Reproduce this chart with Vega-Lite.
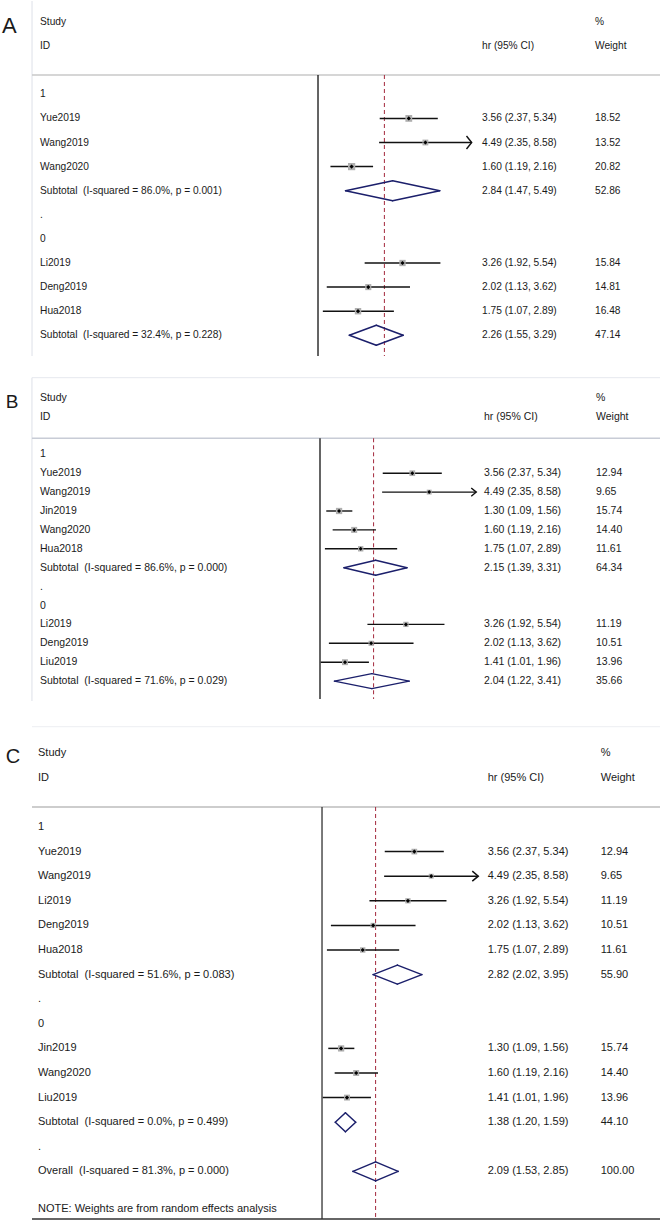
{
  "$schema": "https://vega.github.io/schema/vega-lite/v6.json",
  "padding": 0,
  "spacing": 0,
  "background": "white",
  "config": {"view": {"stroke": null}, "concat": {"spacing": 0}, "text": {"font": "Liberation Sans", "color": "#1a1a1a"}},
  "datasets": {
    "A": [
      {"r": -3, "type": "header", "label": "Study", "wt": "%"},
      {"r": -2, "type": "header", "label": "ID", "hr": "hr (95% CI)", "wt": "Weight"},
      {"r": 0, "type": "group", "label": "1"},
      {"r": 1, "type": "study", "label": "Yue2019", "est": 3.56, "lo": 2.37, "hi": 5.34, "w": 18.52, "hr": "3.56 (2.37, 5.34)", "wt": "18.52"},
      {"r": 2, "type": "study", "label": "Wang2019", "est": 4.49, "lo": 2.35, "hi": 8.58, "w": 13.52, "hr": "4.49 (2.35, 8.58)", "wt": "13.52", "trunc": 1},
      {"r": 3, "type": "study", "label": "Wang2020", "est": 1.6, "lo": 1.19, "hi": 2.16, "w": 20.82, "hr": "1.60 (1.19, 2.16)", "wt": "20.82"},
      {"r": 4, "type": "sub", "label": "Subtotal\u00a0\u00a0(I-squared = 86.0%, p = 0.001)", "est": 2.84, "lo": 1.47, "hi": 5.49, "w": 52.86, "hr": "2.84 (1.47, 5.49)", "wt": "52.86"},
      {"r": 5, "type": "sep", "label": "."},
      {"r": 6, "type": "group", "label": "0"},
      {"r": 7, "type": "study", "label": "Li2019", "est": 3.26, "lo": 1.92, "hi": 5.54, "w": 15.84, "hr": "3.26 (1.92, 5.54)", "wt": "15.84"},
      {"r": 8, "type": "study", "label": "Deng2019", "est": 2.02, "lo": 1.13, "hi": 3.62, "w": 14.81, "hr": "2.02 (1.13, 3.62)", "wt": "14.81"},
      {"r": 9, "type": "study", "label": "Hua2018", "est": 1.75, "lo": 1.07, "hi": 2.89, "w": 16.48, "hr": "1.75 (1.07, 2.89)", "wt": "16.48"},
      {"r": 10, "type": "sub", "label": "Subtotal\u00a0\u00a0(I-squared = 32.4%, p = 0.228)", "est": 2.26, "lo": 1.55, "hi": 3.29, "w": 47.14, "hr": "2.26 (1.55, 3.29)", "wt": "47.14"}
    ],
    "B": [
      {"r": -3, "type": "header", "label": "Study", "wt": "%"},
      {"r": -2, "type": "header", "label": "ID", "hr": "hr (95% CI)", "wt": "Weight"},
      {"r": 0, "type": "group", "label": "1"},
      {"r": 1, "type": "study", "label": "Yue2019", "est": 3.56, "lo": 2.37, "hi": 5.34, "w": 12.94, "hr": "3.56 (2.37, 5.34)", "wt": "12.94"},
      {"r": 2, "type": "study", "label": "Wang2019", "est": 4.49, "lo": 2.35, "hi": 8.58, "w": 9.65, "hr": "4.49 (2.35, 8.58)", "wt": "9.65", "trunc": 1},
      {"r": 3, "type": "study", "label": "Jin2019", "est": 1.3, "lo": 1.09, "hi": 1.56, "w": 15.74, "hr": "1.30 (1.09, 1.56)", "wt": "15.74"},
      {"r": 4, "type": "study", "label": "Wang2020", "est": 1.6, "lo": 1.19, "hi": 2.16, "w": 14.4, "hr": "1.60 (1.19, 2.16)", "wt": "14.40"},
      {"r": 5, "type": "study", "label": "Hua2018", "est": 1.75, "lo": 1.07, "hi": 2.89, "w": 11.61, "hr": "1.75 (1.07, 2.89)", "wt": "11.61"},
      {"r": 6, "type": "sub", "label": "Subtotal\u00a0\u00a0(I-squared = 86.6%, p = 0.000)", "est": 2.15, "lo": 1.39, "hi": 3.31, "w": 64.34, "hr": "2.15 (1.39, 3.31)", "wt": "64.34"},
      {"r": 7, "type": "sep", "label": "."},
      {"r": 8, "type": "group", "label": "0"},
      {"r": 9, "type": "study", "label": "Li2019", "est": 3.26, "lo": 1.92, "hi": 5.54, "w": 11.19, "hr": "3.26 (1.92, 5.54)", "wt": "11.19"},
      {"r": 10, "type": "study", "label": "Deng2019", "est": 2.02, "lo": 1.13, "hi": 3.62, "w": 10.51, "hr": "2.02 (1.13, 3.62)", "wt": "10.51"},
      {"r": 11, "type": "study", "label": "Liu2019", "est": 1.41, "lo": 1.01, "hi": 1.96, "w": 13.96, "hr": "1.41 (1.01, 1.96)", "wt": "13.96"},
      {"r": 12, "type": "sub", "label": "Subtotal\u00a0\u00a0(I-squared = 71.6%, p = 0.029)", "est": 2.04, "lo": 1.22, "hi": 3.41, "w": 35.66, "hr": "2.04 (1.22, 3.41)", "wt": "35.66"}
    ],
    "C": [
      {"r": -3, "type": "header", "label": "Study", "wt": "%"},
      {"r": -2, "type": "header", "label": "ID", "hr": "hr (95% CI)", "wt": "Weight"},
      {"r": 0, "type": "group", "label": "1"},
      {"r": 1, "type": "study", "label": "Yue2019", "est": 3.56, "lo": 2.37, "hi": 5.34, "w": 12.94, "hr": "3.56 (2.37, 5.34)", "wt": "12.94"},
      {"r": 2, "type": "study", "label": "Wang2019", "est": 4.49, "lo": 2.35, "hi": 8.58, "w": 9.65, "hr": "4.49 (2.35, 8.58)", "wt": "9.65", "trunc": 1},
      {"r": 3, "type": "study", "label": "Li2019", "est": 3.26, "lo": 1.92, "hi": 5.54, "w": 11.19, "hr": "3.26 (1.92, 5.54)", "wt": "11.19"},
      {"r": 4, "type": "study", "label": "Deng2019", "est": 2.02, "lo": 1.13, "hi": 3.62, "w": 10.51, "hr": "2.02 (1.13, 3.62)", "wt": "10.51"},
      {"r": 5, "type": "study", "label": "Hua2018", "est": 1.75, "lo": 1.07, "hi": 2.89, "w": 11.61, "hr": "1.75 (1.07, 2.89)", "wt": "11.61"},
      {"r": 6, "type": "sub", "label": "Subtotal\u00a0\u00a0(I-squared = 51.6%, p = 0.083)", "est": 2.82, "lo": 2.02, "hi": 3.95, "w": 55.9, "hr": "2.82 (2.02, 3.95)", "wt": "55.90"},
      {"r": 7, "type": "sep", "label": "."},
      {"r": 8, "type": "group", "label": "0"},
      {"r": 9, "type": "study", "label": "Jin2019", "est": 1.3, "lo": 1.09, "hi": 1.56, "w": 15.74, "hr": "1.30 (1.09, 1.56)", "wt": "15.74"},
      {"r": 10, "type": "study", "label": "Wang2020", "est": 1.6, "lo": 1.19, "hi": 2.16, "w": 14.4, "hr": "1.60 (1.19, 2.16)", "wt": "14.40"},
      {"r": 11, "type": "study", "label": "Liu2019", "est": 1.41, "lo": 1.01, "hi": 1.96, "w": 13.96, "hr": "1.41 (1.01, 1.96)", "wt": "13.96"},
      {"r": 12, "type": "sub", "label": "Subtotal\u00a0\u00a0(I-squared = 0.0%, p = 0.499)", "est": 1.38, "lo": 1.2, "hi": 1.59, "w": 44.1, "hr": "1.38 (1.20, 1.59)", "wt": "44.10"},
      {"r": 13, "type": "sep", "label": "."},
      {"r": 14, "type": "overall", "label": "Overall\u00a0\u00a0(I-squared = 81.3%, p = 0.000)", "est": 2.09, "lo": 1.53, "hi": 2.85, "w": 100, "hr": "2.09 (1.53, 2.85)", "wt": "100.00"},
      {"r": 15.528, "type": "note", "label": "NOTE: Weights are from random effects analysis"}
    ]
  },
  "vconcat": [
    {
      "width": 660, "height": 372,
      "data": {"name": "A"},
      "encoding": {"y": {"field": "r", "type": "quantitative", "scale": {"domain": [-3.8714, 11.5643], "reverse": true, "nice": false, "zero": false}, "axis": null}},
      "layer": [
        {"transform": [{"filter": "datum.r == -3"}], "mark": {"type": "rule", "color": "#dde0e8", "strokeWidth": 1},
         "encoding": {"x": {"datum": 0.01832, "type": "quantitative", "scale": {"type": "log", "domain": [0.011706, 119.47], "nice": false}, "axis": null}, "y": {"datum": -3.8714}, "y2": {"datum": 10.859}}},
        {"transform": [{"filter": "datum.r == -3"}], "mark": {"type": "rule", "color": "#c9c9c9", "strokeWidth": 1.5},
         "encoding": {"x": {"datum": 0.01832, "type": "quantitative"}, "x2": {"datum": 119.47}, "y": {"datum": -0.801}}},
        {"transform": [{"filter": "datum.r == -3"}], "mark": {"type": "rule", "color": "#111111", "strokeWidth": 1.3},
         "encoding": {"x": {"datum": 1, "type": "quantitative"}, "y": {"datum": -0.801}, "y2": {"datum": 10.859}}},
        {"transform": [{"filter": "datum.r == -3"}], "mark": {"type": "rule", "color": "#a3283c", "strokeWidth": 1, "strokeDash": [4, 3]},
         "encoding": {"x": {"datum": 2.53, "type": "quantitative"}, "y": {"datum": -0.801}, "y2": {"datum": 10.859}}},
        {"transform": [{"filter": "datum.type == 'study'"}], "mark": {"type": "rule", "color": "#111111", "strokeWidth": 1.5},
         "encoding": {"x": {"field": "lo", "type": "quantitative"}, "x2": {"field": "hi"}}},
        {"transform": [{"filter": "datum.trunc == 1"}], "mark": {"type": "point", "shape": "M-0.8,-1L0,0L-0.8,1", "filled": false, "size": 169, "stroke": "#111111", "strokeWidth": 1.4, "opacity": 1},
         "encoding": {"x": {"field": "hi", "type": "quantitative"}}},
        {"transform": [{"filter": "datum.type == 'study'"}], "mark": {"type": "point", "shape": "square", "filled": true, "color": "#afafaf", "opacity": 1},
         "encoding": {"x": {"field": "est", "type": "quantitative"}, "size": {"field": "w", "type": "quantitative", "scale": {"domain": [0, 20], "range": [0, 50]}, "legend": null}}},
        {"transform": [{"filter": "datum.type == 'study'"}], "mark": {"type": "point", "shape": "diamond", "filled": true, "color": "#000000", "size": 18, "opacity": 1},
         "encoding": {"x": {"field": "est", "type": "quantitative"}}},
        {"transform": [{"filter": "datum.type == 'sub' || datum.type == 'overall'"}], "mark": {"type": "rule", "color": "#1b1f6b", "strokeWidth": 1.5, "strokeCap": "round", "y2Offset": -10},
         "encoding": {"x": {"field": "lo", "type": "quantitative"}, "x2": {"field": "est"}, "y2": {"field": "r"}}},
        {"transform": [{"filter": "datum.type == 'sub' || datum.type == 'overall'"}], "mark": {"type": "rule", "color": "#1b1f6b", "strokeWidth": 1.5, "strokeCap": "round", "yOffset": -10},
         "encoding": {"x": {"field": "est", "type": "quantitative"}, "x2": {"field": "hi"}, "y2": {"field": "r"}}},
        {"transform": [{"filter": "datum.type == 'sub' || datum.type == 'overall'"}], "mark": {"type": "rule", "color": "#1b1f6b", "strokeWidth": 1.5, "strokeCap": "round", "y2Offset": 10},
         "encoding": {"x": {"field": "lo", "type": "quantitative"}, "x2": {"field": "est"}, "y2": {"field": "r"}}},
        {"transform": [{"filter": "datum.type == 'sub' || datum.type == 'overall'"}], "mark": {"type": "rule", "color": "#1b1f6b", "strokeWidth": 1.5, "strokeCap": "round", "yOffset": 10},
         "encoding": {"x": {"field": "est", "type": "quantitative"}, "x2": {"field": "hi"}, "y2": {"field": "r"}}},
        {"mark": {"type": "text", "align": "left", "baseline": "middle", "fontSize": 10.2},
         "encoding": {"x": {"datum": 0.02049, "type": "quantitative"}, "text": {"field": "label"}}},
        {"transform": [{"filter": "isValid(datum.hr)"}], "mark": {"type": "text", "align": "left", "baseline": "middle", "fontSize": 10.2},
         "encoding": {"x": {"datum": 9.911, "type": "quantitative"}, "text": {"field": "hr"}}},
        {"transform": [{"filter": "isValid(datum.wt)"}], "mark": {"type": "text", "align": "left", "baseline": "middle", "fontSize": 10.2},
         "encoding": {"x": {"datum": 48.14, "type": "quantitative"}, "text": {"field": "wt"}}},
        {"transform": [{"filter": "datum.r == -3"}], "mark": {"type": "text", "align": "center", "baseline": "alphabetic", "fontSize": 22},
         "encoding": {"x": {"datum": 0.01332, "type": "quantitative"}, "y": {"datum": -2.556}, "text": {"value": "A"}}}
      ]
    },
    {
      "width": 660, "height": 348,
      "data": {"name": "B"},
      "encoding": {"y": {"field": "r", "type": "quantitative", "scale": {"domain": [-4.3016, 14.1111], "reverse": true, "nice": false, "zero": false}, "axis": null}},
      "layer": [
        {"transform": [{"filter": "datum.r == -3"}], "mark": {"type": "rule", "color": "#e6e8ee", "strokeWidth": 1},
         "encoding": {"x": {"datum": 0.01903, "type": "quantitative", "scale": {"type": "log", "domain": [0.01226, 107.4], "nice": false}, "axis": null}, "x2": {"datum": 107.4}, "y": {"datum": -4.053}}},
        {"transform": [{"filter": "datum.r == -3"}], "mark": {"type": "rule", "color": "#dde0e8", "strokeWidth": 1},
         "encoding": {"x": {"datum": 0.01903, "type": "quantitative"}, "y": {"datum": -4.053}, "y2": {"datum": 13.053}}},
        {"transform": [{"filter": "datum.r == -3"}], "mark": {"type": "rule", "color": "#c8ccd6", "strokeWidth": 1.5},
         "encoding": {"x": {"datum": 0.01903, "type": "quantitative"}, "x2": {"datum": 107.4}, "y": {"datum": -0.847}}},
        {"transform": [{"filter": "datum.r == -3"}], "mark": {"type": "rule", "color": "#111111", "strokeWidth": 1.3},
         "encoding": {"x": {"datum": 1, "type": "quantitative"}, "y": {"datum": -0.847}, "y2": {"datum": 12.947}}},
        {"transform": [{"filter": "datum.r == -3"}], "mark": {"type": "rule", "color": "#a3283c", "strokeWidth": 1, "strokeDash": [4, 3]},
         "encoding": {"x": {"datum": 2.09, "type": "quantitative"}, "y": {"datum": -0.847}, "y2": {"datum": 12.947}}},
        {"transform": [{"filter": "datum.type == 'study'"}], "mark": {"type": "rule", "color": "#111111", "strokeWidth": 1.4},
         "encoding": {"x": {"field": "lo", "type": "quantitative"}, "x2": {"field": "hi"}}},
        {"transform": [{"filter": "datum.trunc == 1"}], "mark": {"type": "point", "shape": "M-1.2,-1L0,0L-1.2,1", "filled": false, "size": 70, "stroke": "#111111", "strokeWidth": 1.4, "opacity": 1},
         "encoding": {"x": {"field": "hi", "type": "quantitative"}}},
        {"transform": [{"filter": "datum.type == 'study'"}], "mark": {"type": "point", "shape": "square", "filled": true, "color": "#afafaf", "opacity": 1},
         "encoding": {"x": {"field": "est", "type": "quantitative"}, "size": {"field": "w", "type": "quantitative", "scale": {"domain": [0, 16], "range": [0, 55]}, "legend": null}}},
        {"transform": [{"filter": "datum.type == 'study'"}], "mark": {"type": "point", "shape": "diamond", "filled": true, "color": "#000000", "size": 16, "opacity": 1},
         "encoding": {"x": {"field": "est", "type": "quantitative"}}},
        {"transform": [{"filter": "datum.type == 'sub' || datum.type == 'overall'"}], "mark": {"type": "rule", "color": "#1b1f6b", "strokeWidth": 1.4, "strokeCap": "round", "y2Offset": -7.5},
         "encoding": {"x": {"field": "lo", "type": "quantitative"}, "x2": {"field": "est"}, "y2": {"field": "r"}}},
        {"transform": [{"filter": "datum.type == 'sub' || datum.type == 'overall'"}], "mark": {"type": "rule", "color": "#1b1f6b", "strokeWidth": 1.4, "strokeCap": "round", "yOffset": -7.5},
         "encoding": {"x": {"field": "est", "type": "quantitative"}, "x2": {"field": "hi"}, "y2": {"field": "r"}}},
        {"transform": [{"filter": "datum.type == 'sub' || datum.type == 'overall'"}], "mark": {"type": "rule", "color": "#1b1f6b", "strokeWidth": 1.4, "strokeCap": "round", "y2Offset": 7.5},
         "encoding": {"x": {"field": "lo", "type": "quantitative"}, "x2": {"field": "est"}, "y2": {"field": "r"}}},
        {"transform": [{"filter": "datum.type == 'sub' || datum.type == 'overall'"}], "mark": {"type": "rule", "color": "#1b1f6b", "strokeWidth": 1.4, "strokeCap": "round", "yOffset": 7.5},
         "encoding": {"x": {"field": "est", "type": "quantitative"}, "x2": {"field": "hi"}, "y2": {"field": "r"}}},
        {"mark": {"type": "text", "align": "left", "baseline": "middle", "fontSize": 10.5},
         "encoding": {"x": {"datum": 0.02124, "type": "quantitative"}, "text": {"field": "label"}}},
        {"transform": [{"filter": "isValid(datum.hr)"}], "mark": {"type": "text", "align": "left", "baseline": "middle", "fontSize": 10.5},
         "encoding": {"x": {"datum": 9.544, "type": "quantitative"}, "text": {"field": "hr"}}},
        {"transform": [{"filter": "isValid(datum.wt)"}], "mark": {"type": "text", "align": "left", "baseline": "middle", "fontSize": 10.5},
         "encoding": {"x": {"datum": 44.54, "type": "quantitative"}, "text": {"field": "wt"}}},
        {"transform": [{"filter": "datum.r == -3"}], "mark": {"type": "text", "align": "center", "baseline": "alphabetic", "fontSize": 19},
         "encoding": {"x": {"datum": 0.01446, "type": "quantitative"}, "y": {"datum": -2.45}, "text": {"value": "B"}}}
      ]
    },
    {
      "width": 660, "height": 501,
      "data": {"name": "C"},
      "encoding": {"y": {"field": "r", "type": "quantitative", "scale": {"domain": [-4.3089, 16.057], "reverse": true, "nice": false, "zero": false}, "axis": null}},
      "layer": [
        {"transform": [{"filter": "datum.r == -3"}], "mark": {"type": "rule", "color": "#eceef2", "strokeWidth": 1},
         "encoding": {"x": {"datum": 0.01851, "type": "quantitative", "scale": {"type": "log", "domain": [0.01192, 104.5], "nice": false}, "axis": null}, "x2": {"datum": 104.5}, "y": {"datum": -4.077}}},
        {"transform": [{"filter": "datum.r == -3"}], "mark": {"type": "rule", "color": "#bdbdbd", "strokeWidth": 1.5},
         "encoding": {"x": {"datum": 0.01851, "type": "quantitative"}, "x2": {"datum": 104.5}, "y": {"datum": -0.813}}},
        {"transform": [{"filter": "datum.r == -3"}], "mark": {"type": "rule", "color": "#333333", "strokeWidth": 1.5},
         "encoding": {"x": {"datum": 0.01851, "type": "quantitative"}, "x2": {"datum": 104.5}, "y": {"datum": 15.935}}},
        {"transform": [{"filter": "datum.r == -3"}], "mark": {"type": "rule", "color": "#333333", "strokeWidth": 1.3},
         "encoding": {"x": {"datum": 1, "type": "quantitative"}, "y": {"datum": -0.813}, "y2": {"datum": 15.935}}},
        {"transform": [{"filter": "datum.r == -3"}], "mark": {"type": "rule", "color": "#a3283c", "strokeWidth": 1, "strokeDash": [4, 3]},
         "encoding": {"x": {"datum": 2.09, "type": "quantitative"}, "y": {"datum": -0.813}, "y2": {"datum": 15.935}}},
        {"transform": [{"filter": "datum.type == 'study'"}], "mark": {"type": "rule", "color": "#111111", "strokeWidth": 1.5},
         "encoding": {"x": {"field": "lo", "type": "quantitative"}, "x2": {"field": "hi"}}},
        {"transform": [{"filter": "datum.trunc == 1"}], "mark": {"type": "point", "shape": "M-1.2,-1L0,0L-1.2,1", "filled": false, "size": 100, "stroke": "#111111", "strokeWidth": 1.5, "opacity": 1},
         "encoding": {"x": {"field": "hi", "type": "quantitative"}}},
        {"transform": [{"filter": "datum.type == 'study'"}], "mark": {"type": "point", "shape": "square", "filled": true, "color": "#afafaf", "opacity": 1},
         "encoding": {"x": {"field": "est", "type": "quantitative"}, "size": {"field": "w", "type": "quantitative", "scale": {"domain": [0, 16], "range": [0, 75]}, "legend": null}}},
        {"transform": [{"filter": "datum.type == 'study'"}], "mark": {"type": "point", "shape": "diamond", "filled": true, "color": "#000000", "size": 18, "opacity": 1},
         "encoding": {"x": {"field": "est", "type": "quantitative"}}},
        {"transform": [{"filter": "datum.type == 'sub' || datum.type == 'overall'"}], "mark": {"type": "rule", "color": "#1b1f6b", "strokeWidth": 1.5, "strokeCap": "round", "y2Offset": -9.5},
         "encoding": {"x": {"field": "lo", "type": "quantitative"}, "x2": {"field": "est"}, "y2": {"field": "r"}}},
        {"transform": [{"filter": "datum.type == 'sub' || datum.type == 'overall'"}], "mark": {"type": "rule", "color": "#1b1f6b", "strokeWidth": 1.5, "strokeCap": "round", "yOffset": -9.5},
         "encoding": {"x": {"field": "est", "type": "quantitative"}, "x2": {"field": "hi"}, "y2": {"field": "r"}}},
        {"transform": [{"filter": "datum.type == 'sub' || datum.type == 'overall'"}], "mark": {"type": "rule", "color": "#1b1f6b", "strokeWidth": 1.5, "strokeCap": "round", "y2Offset": 9.5},
         "encoding": {"x": {"field": "lo", "type": "quantitative"}, "x2": {"field": "est"}, "y2": {"field": "r"}}},
        {"transform": [{"filter": "datum.type == 'sub' || datum.type == 'overall'"}], "mark": {"type": "rule", "color": "#1b1f6b", "strokeWidth": 1.5, "strokeCap": "round", "yOffset": 9.5},
         "encoding": {"x": {"field": "est", "type": "quantitative"}, "x2": {"field": "hi"}, "y2": {"field": "r"}}},
        {"mark": {"type": "text", "align": "left", "baseline": "middle", "fontSize": 11},
         "encoding": {"x": {"datum": 0.02011, "type": "quantitative"}, "text": {"field": "label"}}},
        {"transform": [{"filter": "isValid(datum.hr)"}], "mark": {"type": "text", "align": "left", "baseline": "middle", "fontSize": 11},
         "encoding": {"x": {"datum": 9.767, "type": "quantitative"}, "text": {"field": "hr"}}},
        {"transform": [{"filter": "isValid(datum.wt)"}], "mark": {"type": "text", "align": "left", "baseline": "middle", "fontSize": 11},
         "encoding": {"x": {"datum": 46.23, "type": "quantitative"}, "text": {"field": "wt"}}},
        {"transform": [{"filter": "datum.r == -3"}], "mark": {"type": "text", "align": "center", "baseline": "alphabetic", "fontSize": 20},
         "encoding": {"x": {"datum": 0.01426, "type": "quantitative"}, "y": {"datum": -2.614}, "text": {"value": "C"}}}
      ]
    }
  ]
}
